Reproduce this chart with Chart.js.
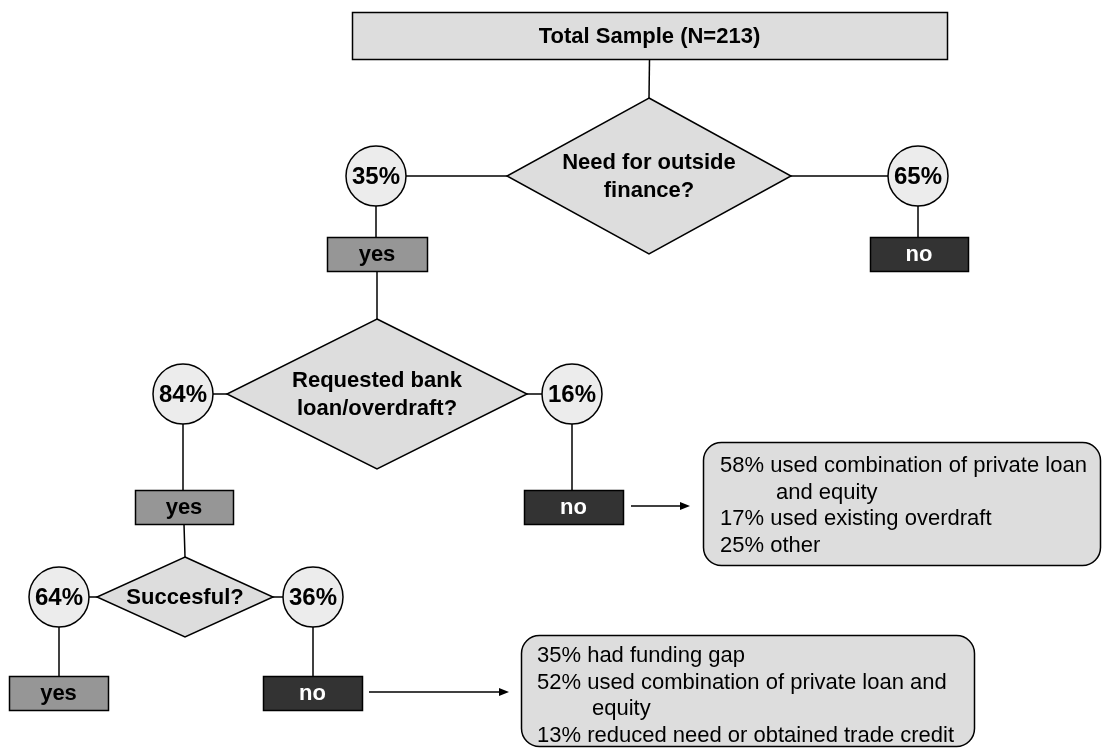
<!DOCTYPE html>
<html>
<head>
<meta charset="utf-8">
<script src="https://cdn.jsdelivr.net/npm/chart.js@4/dist/chart.umd.min.js"></script>
<style>
  html, body { margin: 0; padding: 0; background: #ffffff; }
  #flowChart { display: block; }
</style>
</head>
<body>
<canvas id="flowChart" width="1102" height="749"></canvas>
<script>
// ---- data ----
const sampleLabel = 'Total Sample (N=213)';
const questions = [
    ['Need for outside', 'finance?'],
    ['Requested bank', 'loan/overdraft?'],
    ['Succesful?']
];
const yesShares = [35, 84, 64];
const noShares = [65, 16, 36];
const answerLabels = ['yes', 'no'];
const noBankLoanOutcomes = [
    ['58% used combination of private loan', 'and equity'],
    ['17% used existing overdraft'],
    ['25% other']
];
const unsuccessfulOutcomes = [
    ['35% had funding gap'],
    ['52% used combination of private loan and', 'equity'],
    ['13% reduced need or obtained trade credit']
];

// ---- layout of the diagram (chart units, x: 0..1102, y: 0..749 top-down) ----
const sampleBox = { x0: 352, x1: 947, y0: 12, y1: 59 };
const diamonds = [
    { cx: 649, cy: 176, hw: 142, hh: 78 },
    { cx: 377, cy: 394, hw: 150, hh: 75 },
    { cx: 185, cy: 597, hw: 88, hh: 40 }
];
const yesCircles = [{ x: 376, y: 176 }, { x: 183, y: 394 }, { x: 59, y: 597 }];
const noCircles = [{ x: 918, y: 176 }, { x: 572, y: 394 }, { x: 313, y: 597 }];
const yesBoxes = [
    { x0: 327, x1: 427, y0: 237, y1: 271 },
    { x0: 135, x1: 233, y0: 490, y1: 524 },
    { x0: 9, x1: 108, y0: 676, y1: 710 }
];
const noBoxes = [
    { x0: 870, x1: 968, y0: 237, y1: 271 },
    { x0: 524, x1: 623, y0: 490, y1: 524 },
    { x0: 263, x1: 362, y0: 676, y1: 710 }
];
const noteBoxes = [
    { x0: 703, x1: 1100, y0: 442, y1: 565, textX: 720, indent: 56, firstY: 465, lineGap: 26.7 },
    { x0: 521, x1: 974, y0: 635, y1: 746, textX: 537, indent: 55, firstY: 655, lineGap: 26.7 }
];
const arrows = [{ x0: 631, x1: 690, y: 506 }, { x0: 369, x1: 509, y: 692 }];

const LIGHT = '#dddddd';
const CIRCLE_FILL = '#ececec';
const YES_FILL = '#969696';
const NO_FILL = '#333333';
const FONT = '"Liberation Sans", Arial, sans-serif';

const flowchartPlugin = {
    id: 'flowchart',
    beforeDatasetsDraw: (chart) => {
        const ctx = chart.ctx;
        const sx = (v) => chart.scales.x.getPixelForValue(v);
        const sy = (v) => chart.scales.y.getPixelForValue(v);

        const line = (x0, y0, x1, y1) => {
            ctx.beginPath();
            ctx.moveTo(sx(x0), sy(y0));
            ctx.lineTo(sx(x1), sy(y1));
            ctx.stroke();
        };
        const rect = (b, fill) => {
            ctx.fillStyle = fill;
            ctx.fillRect(sx(b.x0), sy(b.y0), sx(b.x1) - sx(b.x0), sy(b.y1) - sy(b.y0));
            ctx.strokeRect(sx(b.x0) + 0.5, sy(b.y0) + 0.5, sx(b.x1) - sx(b.x0), sy(b.y1) - sy(b.y0));
        };

        ctx.save();
        ctx.strokeStyle = '#000000';
        ctx.lineWidth = 1.5;

        // connectors
        line((sampleBox.x0 + sampleBox.x1) / 2, sampleBox.y1, diamonds[0].cx, diamonds[0].cy - diamonds[0].hh);
        diamonds.forEach((d, i) => {
            line(yesCircles[i].x, d.cy, d.cx - d.hw, d.cy);
            line(d.cx + d.hw, d.cy, noCircles[i].x, d.cy);
            line(yesCircles[i].x, yesCircles[i].y, yesCircles[i].x, yesBoxes[i].y0);
            line(noCircles[i].x, noCircles[i].y, noCircles[i].x, noBoxes[i].y0);
            if (i < diamonds.length - 1) {
                const next = diamonds[i + 1];
                line((yesBoxes[i].x0 + yesBoxes[i].x1) / 2, yesBoxes[i].y1, next.cx, next.cy - next.hh);
            }
        });

        // arrows to the outcome notes
        arrows.forEach(a => {
            line(a.x0, a.y, a.x1 - 8, a.y);
            ctx.fillStyle = '#000000';
            ctx.beginPath();
            ctx.moveTo(sx(a.x1), sy(a.y));
            ctx.lineTo(sx(a.x1 - 10), sy(a.y - 4));
            ctx.lineTo(sx(a.x1 - 10), sy(a.y + 4));
            ctx.closePath();
            ctx.fill();
        });

        // sample box
        rect(sampleBox, LIGHT);

        // decision diamonds
        diamonds.forEach(d => {
            ctx.beginPath();
            ctx.moveTo(sx(d.cx), sy(d.cy - d.hh));
            ctx.lineTo(sx(d.cx + d.hw), sy(d.cy));
            ctx.lineTo(sx(d.cx), sy(d.cy + d.hh));
            ctx.lineTo(sx(d.cx - d.hw), sy(d.cy));
            ctx.closePath();
            ctx.fillStyle = LIGHT;
            ctx.fill();
            ctx.stroke();
        });

        // yes / no boxes
        yesBoxes.forEach(b => rect(b, YES_FILL));
        noBoxes.forEach(b => rect(b, NO_FILL));

        // outcome notes
        noteBoxes.forEach(b => {
            ctx.beginPath();
            ctx.roundRect(sx(b.x0) + 0.5, sy(b.y0) + 0.5, sx(b.x1) - sx(b.x0), sy(b.y1) - sy(b.y0), 18);
            ctx.fillStyle = LIGHT;
            ctx.fill();
            ctx.stroke();
        });
        ctx.restore();
    },
    afterDatasetsDraw: (chart) => {
        const ctx = chart.ctx;
        const sx = (v) => chart.scales.x.getPixelForValue(v);
        const sy = (v) => chart.scales.y.getPixelForValue(v);

        ctx.save();
        ctx.textAlign = 'center';
        ctx.textBaseline = 'middle';
        ctx.fillStyle = '#000000';

        ctx.font = 'bold 22px ' + FONT;
        ctx.fillText(sampleLabel, sx((sampleBox.x0 + sampleBox.x1) / 2), sy((sampleBox.y0 + sampleBox.y1) / 2) + 1);

        diamonds.forEach((d, i) => {
            const lines = questions[i];
            const gap = 28;
            lines.forEach((t, k) => {
                const off = (k - (lines.length - 1) / 2) * gap;
                ctx.fillText(t, sx(d.cx), sy(d.cy) + off + 1);
            });
        });

        yesBoxes.forEach(b => {
            ctx.fillStyle = '#000000';
            ctx.fillText(answerLabels[0], sx((b.x0 + b.x1) / 2), sy((b.y0 + b.y1) / 2) + 1);
        });
        noBoxes.forEach(b => {
            ctx.fillStyle = '#ffffff';
            ctx.fillText(answerLabels[1], sx((b.x0 + b.x1) / 2), sy((b.y0 + b.y1) / 2) + 1);
        });

        // percentages on the circles drawn by the scatter datasets
        ctx.fillStyle = '#000000';
        ctx.font = 'bold 24px ' + FONT;
        chart.data.datasets.forEach((ds, di) => {
            const meta = chart.getDatasetMeta(di);
            meta.data.forEach((pt, pi) => {
                ctx.fillText(ds.data[pi].share + '%', pt.x, pt.y + 1);
            });
        });

        // outcome notes text
        ctx.textAlign = 'left';
        ctx.font = '22px ' + FONT;
        [noBankLoanOutcomes, unsuccessfulOutcomes].forEach((items, n) => {
            const b = noteBoxes[n];
            let row = 0;
            items.forEach(item => {
                item.forEach((t, k) => {
                    const x = b.textX + (k > 0 ? b.indent : 0);
                    ctx.fillText(t, sx(x), sy(b.firstY + row * b.lineGap) + 1);
                    row++;
                });
            });
        });
        ctx.restore();
    }
};

const canvas = document.getElementById('flowChart');
const ctx = canvas.getContext('2d');

const flowChart = new Chart(ctx, {
    type: 'scatter',
    data: {
        datasets: [
            {
                label: 'yes',
                data: yesCircles.map((c, i) => ({ x: c.x, y: c.y, share: yesShares[i] })),
                pointRadius: 30,
                pointHoverRadius: 30,
                backgroundColor: CIRCLE_FILL,
                borderColor: '#000000',
                borderWidth: 1.5,
                clip: false
            },
            {
                label: 'no',
                data: noCircles.map((c, i) => ({ x: c.x, y: c.y, share: noShares[i] })),
                pointRadius: 30,
                pointHoverRadius: 30,
                backgroundColor: CIRCLE_FILL,
                borderColor: '#000000',
                borderWidth: 1.5,
                clip: false
            }
        ]
    },
    options: {
        responsive: false,
        devicePixelRatio: 1,
        animation: false,
        events: [],
        layout: { padding: 0, autoPadding: false },
        plugins: {
            legend: { display: false },
            tooltip: { enabled: false },
            title: { display: false }
        },
        scales: {
            x: { type: 'linear', min: 0, max: 1102, display: false },
            y: { type: 'linear', min: 0, max: 749, reverse: true, display: false }
        }
    },
    plugins: [flowchartPlugin]
});
</script>
</body>
</html>
